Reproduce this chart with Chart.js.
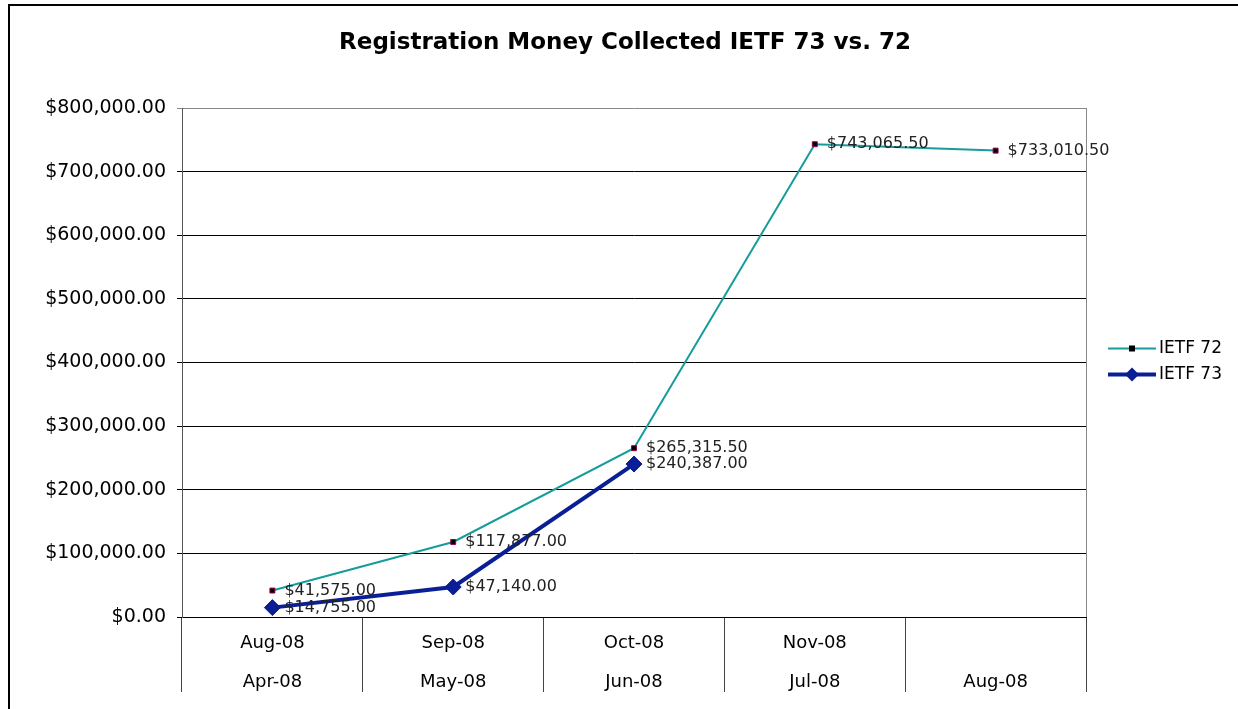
<!DOCTYPE html>
<html>
<head>
<meta charset="utf-8">
<title>Registration Money Collected IETF 73 vs. 72</title>
<script src="https://cdn.jsdelivr.net/npm/chart.js@4.4.1/dist/chart.umd.min.js"></script>
<style>
  html, body { margin: 0; padding: 0; background: #fff; }
  #wrap { width: 1238px; height: 709px; position: relative; }
</style>
</head>
<body>
<div id="wrap"><canvas id="moneyChart"></canvas></div>
<script>
// chart data
const categories = [['Aug-08', 'Apr-08'], ['Sep-08', 'May-08'], ['Oct-08', 'Jun-08'], ['Nov-08', 'Jul-08'], ['', 'Aug-08']];
const ietf72 = [41575.00, 117877.00, 265315.50, 743065.50, 733010.50];
const ietf73 = [14755.00, 47140.00, 240387.00, null, null];
const yTickValues = [0, 100000, 200000, 300000, 400000, 500000, 600000, 700000, 800000];
const chartTitle = 'Registration Money Collected IETF 73 vs. 72';

const TEAL = '#169c9c';
const NAVY = '#0a1f96';

function money(v) {
    return '$' + v.toLocaleString('en-US', { minimumFractionDigits: 2, maximumFractionDigits: 2 });
}

Chart.defaults.font.family = "'DejaVu Sans', sans-serif";
Chart.defaults.color = '#000';

// frame, title, value labels and legend
const decorPlugin = {
    id: 'decor',
    beforeDraw(chart) {
        const ctx = chart.ctx;
        ctx.save();
        ctx.fillStyle = '#fff';
        ctx.fillRect(0, 0, chart.width, chart.height);
        ctx.strokeStyle = '#000';
        ctx.lineWidth = 2;
        ctx.strokeRect(9, 5, chart.width + 20, chart.height + 20);

        // title centred on the whole picture
        ctx.font = "bold 23px 'DejaVu Sans'";
        ctx.fillStyle = '#000';
        ctx.textAlign = 'center';
        ctx.textBaseline = 'middle';
        ctx.fillText(chartTitle, chart.width / 2 + 6, 43);
        ctx.restore();
    },
    afterDraw(chart) {
        const ctx = chart.ctx;
        const area = chart.chartArea;
        ctx.save();

        // plot area right edge
        ctx.strokeStyle = '#888';
        ctx.lineWidth = 1;
        ctx.beginPath();
        ctx.moveTo(area.right + 0.5, area.top);
        ctx.lineTo(area.right + 0.5, area.bottom);
        ctx.stroke();

        // value labels
        ctx.font = "16px 'DejaVu Sans'";
        ctx.fillStyle = '#222';
        ctx.textBaseline = 'middle';
        ctx.textAlign = 'left';
        chart.data.datasets.forEach((ds, i) => {
            const meta = chart.getDatasetMeta(i);
            meta.data.forEach((pt, j) => {
                const v = ds.data[j];
                if (v == null) return;
                ctx.fillText(money(v), pt.x + 12, pt.y);
            });
        });

        // legend
        const midY = (area.top + area.bottom) / 2;
        const x0 = area.right + 22;
        const x1 = area.right + 70;
        ctx.font = "17px 'DejaVu Sans'";
        const y72 = midY - 14;
        ctx.strokeStyle = TEAL;
        ctx.lineWidth = 2;
        ctx.beginPath();
        ctx.moveTo(x0, y72);
        ctx.lineTo(x1, y72);
        ctx.stroke();
        ctx.fillStyle = '#000';
        ctx.fillRect((x0 + x1) / 2 - 3, y72 - 3, 6, 6);
        ctx.fillText('IETF 72', x1 + 3, y72);

        const y73 = midY + 12;
        ctx.strokeStyle = NAVY;
        ctx.lineWidth = 4;
        ctx.beginPath();
        ctx.moveTo(x0, y73);
        ctx.lineTo(x1, y73);
        ctx.stroke();
        const cx = (x0 + x1) / 2;
        ctx.fillStyle = NAVY;
        ctx.beginPath();
        ctx.moveTo(cx, y73 - 7);
        ctx.lineTo(cx + 7, y73);
        ctx.lineTo(cx, y73 + 7);
        ctx.lineTo(cx - 7, y73);
        ctx.closePath();
        ctx.fill();
        ctx.fillStyle = '#000';
        ctx.fillText('IETF 73', x1 + 3, y73);

        ctx.restore();
    }
};

const ctx = document.getElementById('moneyChart').getContext('2d');
const moneyChart = new Chart(ctx, {
    type: 'line',
    data: {
        labels: categories,
        datasets: [{
            label: 'IETF 72',
            data: ietf72,
            borderColor: TEAL,
            borderWidth: 2,
            pointStyle: 'rect',
            pointRadius: 3.5,
            pointBackgroundColor: '#000',
            pointBorderColor: '#99004d',
            pointBorderWidth: 1,
            tension: 0
        }, {
            label: 'IETF 73',
            data: ietf73,
            borderColor: NAVY,
            borderWidth: 4,
            pointStyle: 'rectRot',
            pointRadius: 8,
            pointBackgroundColor: NAVY,
            pointBorderColor: NAVY,
            pointBorderWidth: 1,
            tension: 0
        }]
    },
    options: {
        responsive: true,
        maintainAspectRatio: false,
        animation: false,
        layout: {
            padding: { left: 0, right: 152, top: 108, bottom: 0 }
        },
        plugins: {
            legend: { display: false },
            tooltip: { enabled: false },
            title: { display: false }
        },
        scales: {
            x: {
                offset: true,
                grid: {
                    offset: true,
                    drawOnChartArea: false,
                    drawTicks: true,
                    tickLength: 75,
                    color: '#444'
                },
                border: { color: '#000', width: 1 },
                ticks: {
                    font: { size: 18, lineHeight: 2.15 },
                    color: '#000',
                    padding: -68,
                    maxRotation: 0,
                    autoSkip: false
                },
                afterFit(scale) { scale.height = 92; }
            },
            y: {
                min: 0,
                max: 800000,
                afterBuildTicks(scale) {
                    scale.ticks = yTickValues.map(v => ({ value: v }));
                },
                grid: {
                    color: c => (c.tick && c.tick.value === 800000 ? '#888' : '#000'),
                    tickLength: 5,
                    lineWidth: 1
                },
                border: { color: '#555', width: 1 },
                ticks: {
                    font: { size: 19 },
                    color: '#000',
                    padding: 11,
                    callback: v => money(v)
                },
                afterFit(scale) { scale.width = 182; }
            }
        }
    },
    plugins: [decorPlugin]
});
</script>
</body>
</html>
